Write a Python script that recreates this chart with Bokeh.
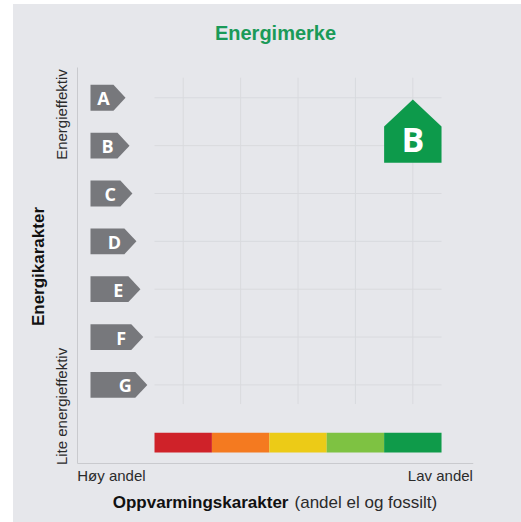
import math
from bokeh.plotting import figure
from bokeh.models import Range1d, FixedTicker, GlobalInlineStyleSheet
from bokeh.core.properties import value
from bokeh.embed import file_html
from bokeh.resources import INLINE

BG = "#e6e7eb"
title_text = "Energimerke"
grades = ["A", "B", "C", "D", "E", "F", "G"]
rows = [0, 1, 2, 3, 4, 5, 6]
tag_lengths = [0.61, 0.68, 0.73, 0.80, 0.87, 0.92, 0.99]
heating_colors = ["#cf2229", "#f47a20", "#eccb17", "#7ec242", "#0f9b4a"]
heating_cols = [0, 1, 2, 3, 4]
current_grade_row = 1
current_heating_col = 4
current_grade = "B"
y_label = "Energikarakter"
x_label_bold = "Oppvarmingskarakter"
x_label_plain = "(andel el og fossilt)"
y_ticks = [0.35, 6.45]
y_tick_labels = ["Energieffektiv", "Lite energieffektiv"]
x_ticks = [-0.75, 4.98]
x_tick_labels = ["Høy andel", "Lav andel"]

FONT = "Liberation Sans"
AXIS_ROW = 7.64
AXIS_COL = -1.333
X_END = 5.557
Y_TOP = -0.633
p = figure(width=513, height=514, output_backend="svg", toolbar_location=None,
           x_range=Range1d(-2.683, X_END), y_range=Range1d(8.708, -2.033),
           min_border_left=0, min_border_right=40, min_border_top=0, min_border_bottom=0)
p.stylesheets = [GlobalInlineStyleSheet(css=f"html{{background:linear-gradient(#fff,#fff) 0 0/100% 4px no-repeat,linear-gradient(#fff,#fff) 0 0/13px 100% no-repeat,{BG};}}body{{background:transparent;margin:0;}}")]
p.background_fill_color = BG
p.border_fill_color = None
p.background_fill_alpha = 0
p.outline_line_color = None
p.grid.visible = False

# axes
for ax in (p.xaxis[0], p.yaxis[0]):
    ax.axis_line_color = "#c9cace"
    ax.axis_line_width = 1
    ax.major_tick_line_color = None
    ax.minor_tick_line_color = None
    ax.major_label_text_font = FONT
    ax.major_label_text_font_size = "15px"
    ax.major_label_text_color = "#2b2b2b"
p.xaxis[0].fixed_location = AXIS_ROW
p.xaxis[0].bounds = (AXIS_COL, X_END)
p.xaxis[0].ticker = FixedTicker(ticks=x_ticks)
p.xaxis[0].major_label_overrides = dict(zip(x_ticks, x_tick_labels))
p.xaxis[0].major_label_standoff = -2
p.yaxis[0].fixed_location = AXIS_COL
p.yaxis[0].bounds = (Y_TOP, AXIS_ROW)
p.yaxis[0].ticker = FixedTicker(ticks=y_ticks)
p.yaxis[0].major_label_overrides = dict(zip(y_ticks, y_tick_labels))
p.yaxis[0].major_label_orientation = "vertical"
p.yaxis[0].major_label_standoff = 2

# faint grid through the category centres
grid = "#d9dade"
p.segment(x0=[c + 0.5 for c in heating_cols], x1=[c + 0.5 for c in heating_cols],
          y0=-0.42, y1=6.4, line_color=grid, line_width=1)
p.segment(x0=0, x1=5, y0=rows, y1=rows, line_color=grid, line_width=1)

# grade tags
tag_left = -1.115
point = 0.21
half = 0.27
xs, ys = [], []
for r, l in zip(rows, tag_lengths):
    tip = tag_left + l
    xs.append([tag_left, tip - point, tip, tip - point, tag_left])
    ys.append([r - half, r - half, r, r + half, r + half])
p.patches(xs, ys, fill_color="#77787c", line_color=None)
p.text(x=[tag_left + l - 0.385 for l in tag_lengths], y=[r + 0.01 for r in rows], text=grades,
       text_color="white", text_font=value("Open Sans"), text_font_style="bold",
       text_font_size="18px", text_align="center", text_baseline="middle")

# heating scale
p.quad(left=heating_cols, right=[c + 1 for c in heating_cols], top=7.0, bottom=7.41,
       fill_color=heating_colors, line_color=None)

# house marker
c = current_heating_col + 0.5
r = current_grade_row
p.patch([c, c + 0.5, c + 0.5, c - 0.5, c - 0.5],
        [r - 0.965, r - 0.4, r + 0.36, r + 0.36, r - 0.4],
        fill_color="#0d9a4b", line_color=None)
p.text(x=[c], y=[r - 0.13], text=[current_grade], text_color="white",
       text_font=value("Open Sans"), text_font_style="bold", text_font_size="34px",
       text_align="center", text_baseline="middle")

# title
p.text(x=[2.108], y=[-1.344], text=[title_text], text_font=value(FONT), text_font_style="bold",
       text_font_size="20px", text_color="#1a9a58", text_align="center", text_baseline="middle")

# y label
p.text(x=[-2.02], y=[3.526], text=[y_label], angle=math.pi / 2, text_font=value(FONT),
       text_font_style="bold", text_font_size="17px", text_color="#111111",
       text_align="center", text_baseline="middle")

# x label with two weights
label_row = 8.46
p.text(x=[2.334], y=[label_row], text=[x_label_bold], text_font=value(FONT), text_font_style="bold",
       text_font_size="17px", text_color="#111111", text_align="right", text_baseline="middle")
p.text(x=[2.439], y=[label_row], text=[x_label_plain], text_font=value(FONT),
       text_font_size="17px", text_color="#2b2b2b", text_align="left", text_baseline="middle")

open("out.html", "w").write(file_html(p, INLINE))
